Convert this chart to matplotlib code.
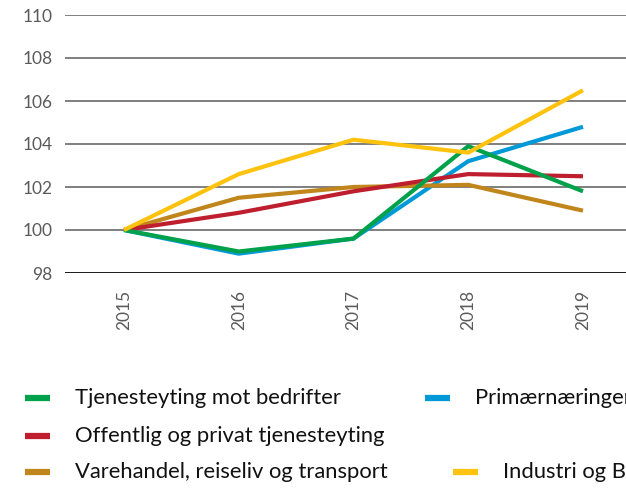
import matplotlib
matplotlib.use("Agg")
import matplotlib.pyplot as plt
from matplotlib.lines import Line2D

years = [2015, 2016, 2017, 2018, 2019]
tjenesteyting_bedrifter = [100.0, 99.0, 99.6, 103.9, 101.8]
primaernaeringer = [100.0, 98.9, 99.6, 103.2, 104.8]
offentlig_privat = [100.0, 100.8, 101.8, 102.6, 102.5]
varehandel = [100.0, 101.5, 102.0, 102.1, 100.9]
industri = [100.0, 102.6, 104.2, 103.6, 106.5]

labels = ["Tjenesteyting mot bedrifter", "Primærnæringer",
          "Offentlig og privat tjenesteyting",
          "Varehandel, reiseliv og transport", "Industri og BA"]
colors = ["#00A14B", "#0099D8", "#BE1E2D", "#C0861B", "#FFC20E"]
yticks = [98, 100, 102, 104, 106, 108, 110]

plt.rcParams['font.family'] = ['Lato', 'DejaVu Sans']

fig = plt.figure(figsize=(6.26, 4.88), dpi=100)
ax = fig.add_axes([65/626, 1-273/488, 1-65/626, (273-15)/488])

for v in yticks:
    ax.axhline(v, color="#1a1a1a" if v == 98 else "#7f7f7f",
               lw=1.4, zorder=1)

order = [1, 3, 2, 0, 4]
series = [tjenesteyting_bedrifter, primaernaeringer, offentlig_privat, varehandel, industri]
for z, i in enumerate(order):
    ax.plot(years, series[i], color=colors[i], lw=3.0, zorder=3+z,
            solid_capstyle='butt', solid_joinstyle='miter')

ax.set_xlim(2014.486, 2019.375)
ax.set_ylim(98, 110)
ax.set_yticks(yticks)
ax.set_yticklabels([str(v) for v in yticks], fontsize=12.5, color="#5a5a5a")
ax.set_xticks(years)
ax.set_xticklabels([str(y) for y in years], rotation=90, fontsize=12.5,
                   color="#5a5a5a")
ax.tick_params(axis='both', length=0)
ax.tick_params(axis='y', pad=9)
ax.tick_params(axis='x', pad=12)
for s in ax.spines.values():
    s.set_visible(False)

# legend (manual, clipped by figure edge like reference)
entries = [(0, 25, 398), (1, 425, 398), (2, 25, 436), (3, 25, 472), (4, 453, 472)]
for i, x0, y0 in entries:
    yf = 1 - y0/488
    fig.add_artist(Line2D([x0/626, (x0+25)/626], [yf, yf], color=colors[i],
                          lw=4.5, solid_capstyle='butt'))
    fig.text((x0+50)/626, yf, labels[i], fontsize=15.8, color="#111111",
             va='center', ha='left')

fig.savefig("out.png", dpi=100)
